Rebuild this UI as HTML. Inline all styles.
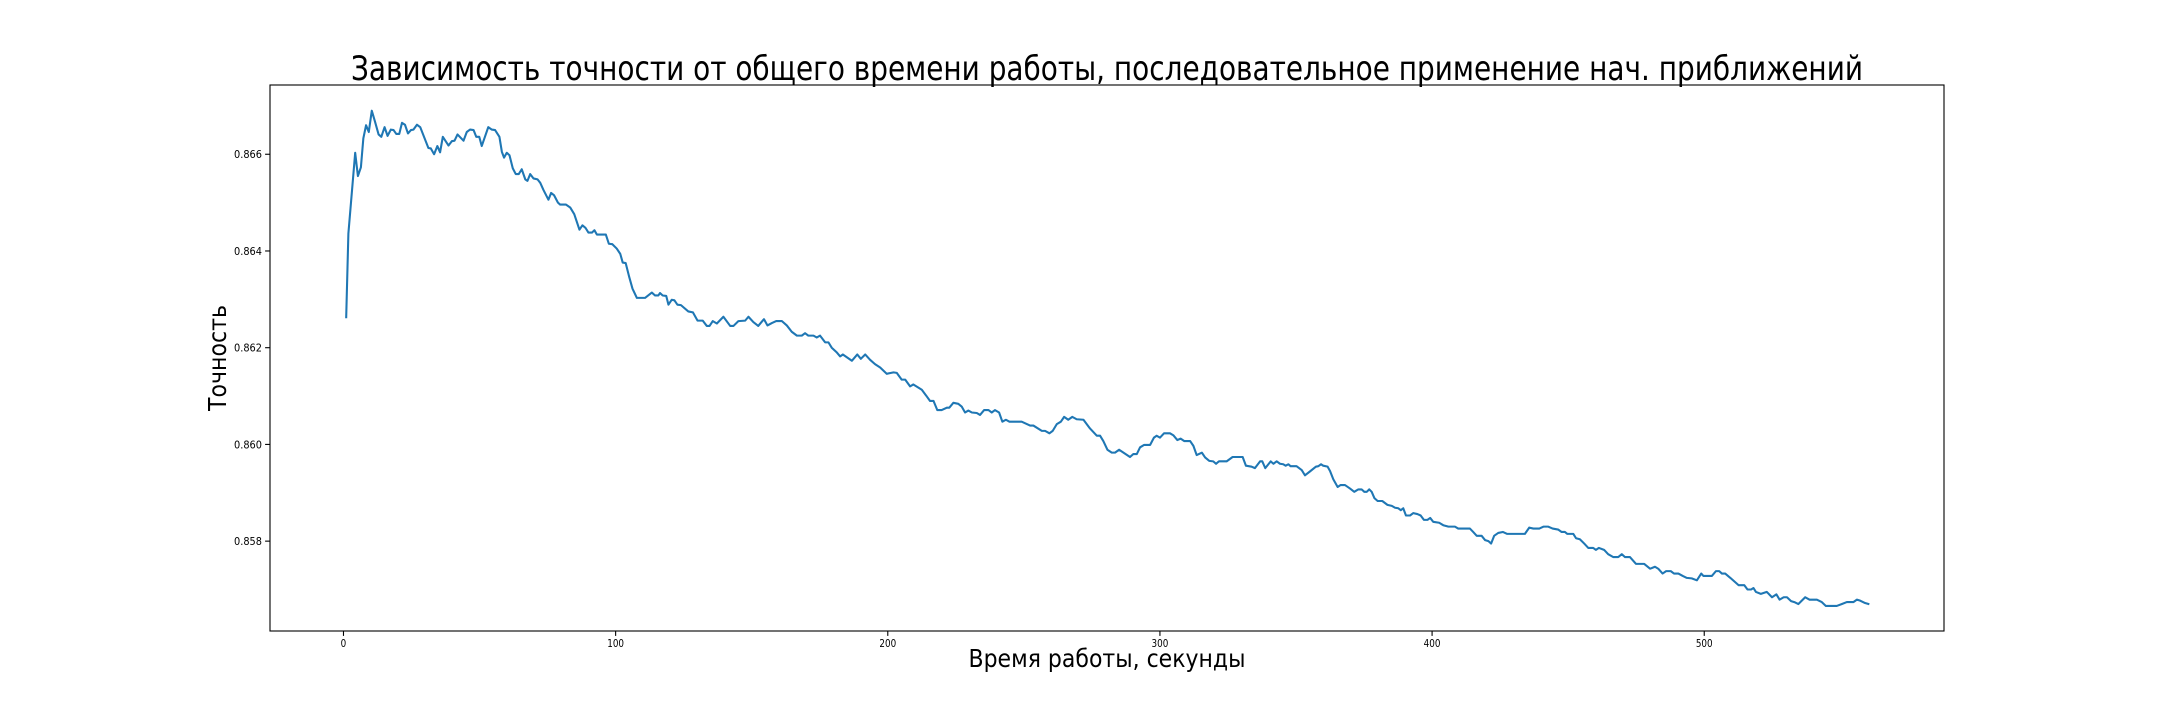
<!DOCTYPE html>
<html>
<head>
<meta charset="utf-8">
<style>
  html, body { margin: 0; padding: 0; background: #ffffff; }
  svg { display: block; font-family: "DejaVu Sans", "Liberation Sans", sans-serif; }
</style>
</head>
<body>
<svg id="chart" width="2160" height="720" viewBox="0 0 2160 720" xmlns="http://www.w3.org/2000/svg">
  <rect x="0" y="0" width="2160" height="720" fill="#ffffff"/>
  <text x="1107" y="80" text-anchor="middle" font-size="34" textLength="1512" lengthAdjust="spacingAndGlyphs" fill="#000">Зависимость точности от общего времени работы, последовательное применение нач. приближений</text>
  <g id="plot"></g>
  <g id="xticks"></g>
  <g id="yticks"></g>
  <rect x="270" y="85" width="1674" height="546" fill="none" stroke="#000" stroke-width="1.1"/>
  <text x="1107" y="667" text-anchor="middle" font-size="25" textLength="277" lengthAdjust="spacingAndGlyphs" fill="#000">Время работы, секунды</text>
  <text x="0" y="0" transform="translate(226,358) rotate(-90)" text-anchor="middle" font-size="25" textLength="106" lengthAdjust="spacingAndGlyphs" fill="#000">Точность</text>
</svg>
<script>
const timeSeconds = [1.0,1.8,4.3,5.3,6.4,7.3,8.3,9.3,10.4,11.6,12.9,13.9,15.1,16.2,17.4,18.4,19.4,20.5,21.5,22.6,23.7,24.8,25.7,27.0,28.2,31.2,32.1,33.3,34.5,35.5,36.5,38.6,39.8,40.8,41.9,44.1,45.3,46.5,47.8,48.8,49.9,50.8,53.2,54.5,55.7,57.3,58.2,59.0,60.0,61.0,62.2,63.3,64.4,65.5,66.8,67.6,68.6,69.8,71.3,72.3,73.5,75.3,76.3,77.4,78.8,79.6,81.7,83.3,84.8,85.7,86.7,87.8,88.9,90.0,91.3,92.2,93.1,96.4,97.5,98.8,100.4,101.7,102.6,103.7,105.0,106.2,107.8,110.8,113.3,114.5,115.7,116.3,117.3,118.6,119.4,120.6,121.6,122.7,124.0,126.7,128.4,130.1,132.0,133.5,134.5,135.7,137.2,139.6,142.1,143.3,145.1,147.6,148.8,150.6,152.4,154.5,155.8,157.4,159.0,161.1,162.9,164.7,166.6,168.4,169.6,170.8,172.7,173.9,175.1,177.0,178.2,179.4,181.3,182.5,183.5,186.8,188.8,190.1,191.7,193.5,195.3,197.2,199.6,202.1,203.3,205.1,206.4,208.2,209.4,212.5,214.1,215.5,216.8,218.2,219.8,221.7,222.6,224.1,225.9,227.2,228.4,229.6,230.9,232.7,233.9,235.4,237.0,238.2,239.4,240.9,242.1,243.4,244.7,249.2,252.3,253.5,256.6,257.8,259.4,260.6,262.1,263.6,264.8,266.3,267.8,269.4,271.9,274.3,276.8,278.0,279.2,280.7,282.3,283.5,285.0,289.0,290.2,291.5,292.7,294.2,296.4,297.8,298.8,300.0,301.5,303.7,304.9,306.4,307.6,308.9,311.1,312.3,313.5,315.4,316.6,318.1,319.6,320.6,321.7,324.5,326.7,330.4,331.6,333.7,334.9,336.8,337.6,338.7,340.7,341.7,342.9,344.1,345.3,346.2,347.2,348.0,350.2,352.1,353.3,355.1,357.3,358.2,359.2,360.0,361.6,362.5,363.7,365.3,366.4,368.0,369.8,371.4,372.9,374.1,375.1,376.0,376.9,377.8,378.8,380.0,381.7,383.6,385.2,386.4,387.6,388.5,389.4,390.4,391.9,393.1,394.6,395.8,397.0,398.3,399.3,400.4,402.6,404.1,406.0,408.4,409.6,413.9,415.1,416.4,418.2,419.5,420.7,421.7,422.8,424.3,426.0,427.6,434.1,435.7,437.2,439.4,440.9,442.7,444.3,446.3,447.6,448.8,449.7,451.9,452.9,454.3,455.9,457.4,459.2,460.2,461.3,463.2,464.7,466.6,468.4,469.7,470.9,472.7,474.9,477.9,480.1,481.9,483.1,484.7,486.0,487.7,488.9,490.5,492.1,493.6,495.4,497.3,498.9,499.7,502.8,504.3,505.5,506.5,507.7,509.6,512.6,514.7,515.9,517.2,518.1,519.0,520.8,523.0,524.9,526.5,527.7,529.2,530.4,531.9,533.1,534.6,537.1,538.7,541.4,543.2,544.7,548.7,550.6,552.4,554.8,556.1,557.3,559.1,560.3];
const accuracy = [0.86263,0.86436,0.86603,0.86555,0.86573,0.86633,0.86660,0.86646,0.86690,0.86667,0.86641,0.86636,0.86656,0.86638,0.86651,0.86650,0.86642,0.86642,0.86665,0.86661,0.86643,0.86650,0.86651,0.86661,0.86656,0.86613,0.86612,0.86600,0.86617,0.86604,0.86636,0.86618,0.86627,0.86628,0.86641,0.86628,0.86646,0.86651,0.86650,0.86636,0.86636,0.86617,0.86656,0.86651,0.86650,0.86636,0.86605,0.86593,0.86603,0.86598,0.86571,0.86559,0.86559,0.86569,0.86548,0.86545,0.86559,0.86550,0.86548,0.86541,0.86526,0.86506,0.86520,0.86515,0.86500,0.86496,0.86496,0.86490,0.86476,0.86461,0.86444,0.86453,0.86448,0.86438,0.86438,0.86443,0.86434,0.86434,0.86415,0.86414,0.86405,0.86394,0.86376,0.86375,0.86346,0.86322,0.86303,0.86303,0.86314,0.86308,0.86308,0.86313,0.86308,0.86307,0.86289,0.86299,0.86298,0.86289,0.86288,0.86275,0.86273,0.86256,0.86256,0.86245,0.86245,0.86255,0.86250,0.86264,0.86245,0.86245,0.86255,0.86256,0.86264,0.86253,0.86245,0.86259,0.86246,0.86251,0.86255,0.86255,0.86246,0.86233,0.86225,0.86225,0.86230,0.86225,0.86225,0.86221,0.86225,0.86211,0.86211,0.86200,0.86190,0.86182,0.86186,0.86173,0.86186,0.86177,0.86186,0.86175,0.86166,0.86159,0.86146,0.86149,0.86148,0.86134,0.86134,0.86120,0.86124,0.86113,0.86101,0.86090,0.86090,0.86071,0.86071,0.86076,0.86076,0.86086,0.86084,0.86078,0.86066,0.86070,0.86066,0.86065,0.86061,0.86071,0.86071,0.86066,0.86071,0.86066,0.86047,0.86051,0.86047,0.86047,0.86039,0.86039,0.86028,0.86028,0.86023,0.86028,0.86042,0.86047,0.86057,0.86051,0.86057,0.86052,0.86051,0.86033,0.86018,0.86018,0.86007,0.85989,0.85983,0.85983,0.85989,0.85974,0.85980,0.85980,0.85994,0.85999,0.85999,0.86014,0.86018,0.86014,0.86023,0.86023,0.86019,0.86009,0.86012,0.86007,0.86007,0.85997,0.85978,0.85983,0.85973,0.85966,0.85965,0.85960,0.85965,0.85965,0.85974,0.85974,0.85956,0.85954,0.85951,0.85965,0.85965,0.85951,0.85965,0.85960,0.85965,0.85960,0.85959,0.85956,0.85959,0.85955,0.85955,0.85947,0.85936,0.85944,0.85954,0.85955,0.85959,0.85956,0.85954,0.85945,0.85928,0.85912,0.85916,0.85916,0.85909,0.85902,0.85907,0.85907,0.85902,0.85902,0.85907,0.85902,0.85889,0.85883,0.85883,0.85875,0.85873,0.85869,0.85868,0.85864,0.85868,0.85853,0.85853,0.85858,0.85856,0.85853,0.85844,0.85844,0.85848,0.85840,0.85838,0.85833,0.85830,0.85830,0.85826,0.85826,0.85819,0.85811,0.85811,0.85802,0.85800,0.85795,0.85811,0.85817,0.85819,0.85815,0.85815,0.85828,0.85826,0.85826,0.85830,0.85830,0.85826,0.85824,0.85819,0.85819,0.85815,0.85815,0.85806,0.85804,0.85795,0.85786,0.85786,0.85782,0.85786,0.85782,0.85773,0.85767,0.85767,0.85773,0.85767,0.85767,0.85753,0.85753,0.85743,0.85747,0.85743,0.85733,0.85738,0.85738,0.85733,0.85733,0.85728,0.85724,0.85723,0.85719,0.85733,0.85728,0.85728,0.85738,0.85738,0.85733,0.85733,0.85724,0.85709,0.85709,0.85700,0.85700,0.85703,0.85695,0.85691,0.85695,0.85684,0.85690,0.85679,0.85684,0.85684,0.85676,0.85674,0.85670,0.85684,0.85679,0.85679,0.85674,0.85666,0.85666,0.85670,0.85674,0.85674,0.85679,0.85677,0.85672,0.85670];
const xTickValues = [0, 100, 200, 300, 400, 500];
const xTickLabels = ["0", "100", "200", "300", "400", "500"];
const yTickValues = [0.858, 0.860, 0.862, 0.864, 0.866];
const yTickLabels = ["0.858", "0.860", "0.862", "0.864", "0.866"];

const AX = {left: 270, right: 1944, top: 85, bottom: 631};
const X_MIN = -27.0, X_MAX = 588.1;
const Y_MIN = 0.856142, Y_MAX = 0.867432;
function xScale(v) { return AX.left + (v - X_MIN) / (X_MAX - X_MIN) * (AX.right - AX.left); }
function yScale(v) { return AX.bottom - (v - Y_MIN) / (Y_MAX - Y_MIN) * (AX.bottom - AX.top); }

const NS = "http://www.w3.org/2000/svg";
const plot = document.getElementById("plot");
let d = "";
for (let i = 0; i < timeSeconds.length; i++) {
  d += (i ? "L" : "M") + xScale(timeSeconds[i]).toFixed(2) + "," + yScale(accuracy[i]).toFixed(2);
}
const line = document.createElementNS(NS, "path");
line.setAttribute("d", d);
line.setAttribute("fill", "none");
line.setAttribute("stroke", "#1f77b4");
line.setAttribute("stroke-width", "2.08");
line.setAttribute("stroke-linejoin", "round");
line.setAttribute("stroke-linecap", "square");


plot.appendChild(line);

const xg = document.getElementById("xticks");
for (let i = 0; i < xTickValues.length; i++) {
  const x = xScale(xTickValues[i]);
  const t = document.createElementNS(NS, "line");
  t.setAttribute("x1", x); t.setAttribute("x2", x);
  t.setAttribute("y1", AX.bottom); t.setAttribute("y2", AX.bottom + 4.9);
  t.setAttribute("stroke", "#000"); t.setAttribute("stroke-width", "1.1");
  
  
  xg.appendChild(t);
  const lb = document.createElementNS(NS, "text");
  lb.setAttribute("x", x); lb.setAttribute("y", 647);
  lb.setAttribute("text-anchor", "middle"); lb.setAttribute("font-size", "10.5");
  lb.setAttribute("textLength", (xTickLabels[i].length * 5.6).toFixed(1));
  lb.setAttribute("lengthAdjust", "spacingAndGlyphs");
  lb.textContent = xTickLabels[i];
  
  
  xg.appendChild(lb);
}

const yg = document.getElementById("yticks");
for (let i = 0; i < yTickValues.length; i++) {
  const y = yScale(yTickValues[i]);
  const t = document.createElementNS(NS, "line");
  t.setAttribute("x1", AX.left - 4.9); t.setAttribute("x2", AX.left);
  t.setAttribute("y1", y); t.setAttribute("y2", y);
  t.setAttribute("stroke", "#000"); t.setAttribute("stroke-width", "1.1");
  
  
  yg.appendChild(t);
  const lb = document.createElementNS(NS, "text");
  lb.setAttribute("x", 262); lb.setAttribute("y", y + 3.9);
  lb.setAttribute("text-anchor", "end"); lb.setAttribute("font-size", "10.5");
  lb.setAttribute("textLength", "28");
  lb.setAttribute("lengthAdjust", "spacingAndGlyphs");
  lb.textContent = yTickLabels[i];
  
  
  yg.appendChild(lb);
}
</script>
</body>
</html>
